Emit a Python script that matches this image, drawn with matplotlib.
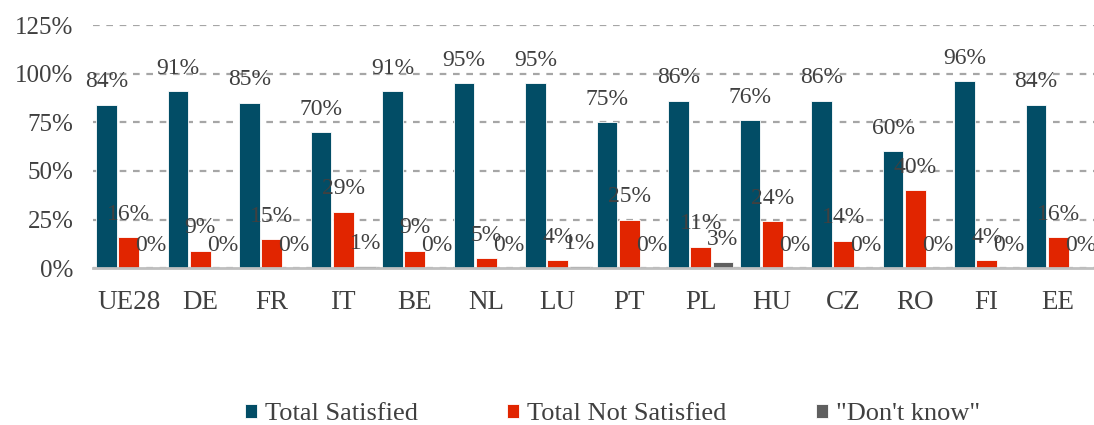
import numpy as np
import matplotlib.pyplot as plt
from matplotlib.ticker import PercentFormatter

countries = ["UE28", "DE", "FR", "IT", "BE", "NL", "LU", "PT", "PL", "HU", "CZ", "RO", "FI", "EE"]
satisfied = [84, 91, 85, 70, 91, 95, 95, 75, 86, 76, 86, 60, 96, 84]
not_satisfied = [16, 9, 15, 29, 9, 5, 4, 25, 11, 24, 14, 40, 4, 16]
dont_know = [0, 0, 0, 1, 0, 0, 1, 0, 3, 0, 0, 0, 0, 0]

series = [
    ("Total Satisfied", satisfied, "#024D66"),
    ("Total Not Satisfied", not_satisfied, "#E12500"),
    ('"Don\'t know"', dont_know, "#5F5F5F"),
]

plt.rcParams["font.family"] = ["Liberation Serif", "DejaVu Serif"]
text_color = "#404040"

fig = plt.figure(figsize=(10.94, 4.25), dpi=100)
ax = fig.add_axes([0.085, 0.369, 0.915, 0.572])

x = np.arange(len(countries))
w = 0.29
for i, (name, vals, col) in enumerate(series):
    pos = x + (i - 1) * 0.31
    ax.bar(pos, np.array(vals) / 100, w, color=col, label=name,
           edgecolor="white", linewidth=0.6, zorder=3)
    for p, v in zip(pos, vals):
        ax.annotate(f"{v}%", (p, v / 100), xytext=(0, 9), textcoords="offset points",
                    ha="center", va="bottom", fontsize=17, color=text_color, zorder=4)

ax.set_xlim(-0.5, len(countries) - 0.5)
ax.set_ylim(0, 1.25)
ax.set_yticks(np.arange(0, 1.26, 0.25))
ax.yaxis.set_major_formatter(PercentFormatter(1.0, decimals=0))
ax.set_xticks(x)
ax.set_xticklabels(countries)
ax.tick_params(axis="both", length=0, labelsize=18, labelcolor=text_color)
ax.tick_params(axis="x", pad=16, labelsize=19.5)
ax.tick_params(axis="y", pad=14)
ax.grid(axis="y", color="#A6A6A6", linestyle=(0, (3, 3)), linewidth=1.6, zorder=0)
for s in ["top", "right", "left"]:
    ax.spines[s].set_visible(False)
ax.spines["bottom"].set_color("#BFBFBF")
ax.spines["bottom"].set_linewidth(2)
ax.spines["bottom"].set_zorder(5)

leg = fig.legend(loc="lower center", bbox_to_anchor=(0.56, -0.057), ncol=3, frameon=False,
                 fontsize=19, handlelength=0.45, handleheight=0.45, handletextpad=0.3,
                 columnspacing=3.4)
for t in leg.get_texts():
    t.set_color(text_color)

fig.savefig("out.png", dpi=100)
